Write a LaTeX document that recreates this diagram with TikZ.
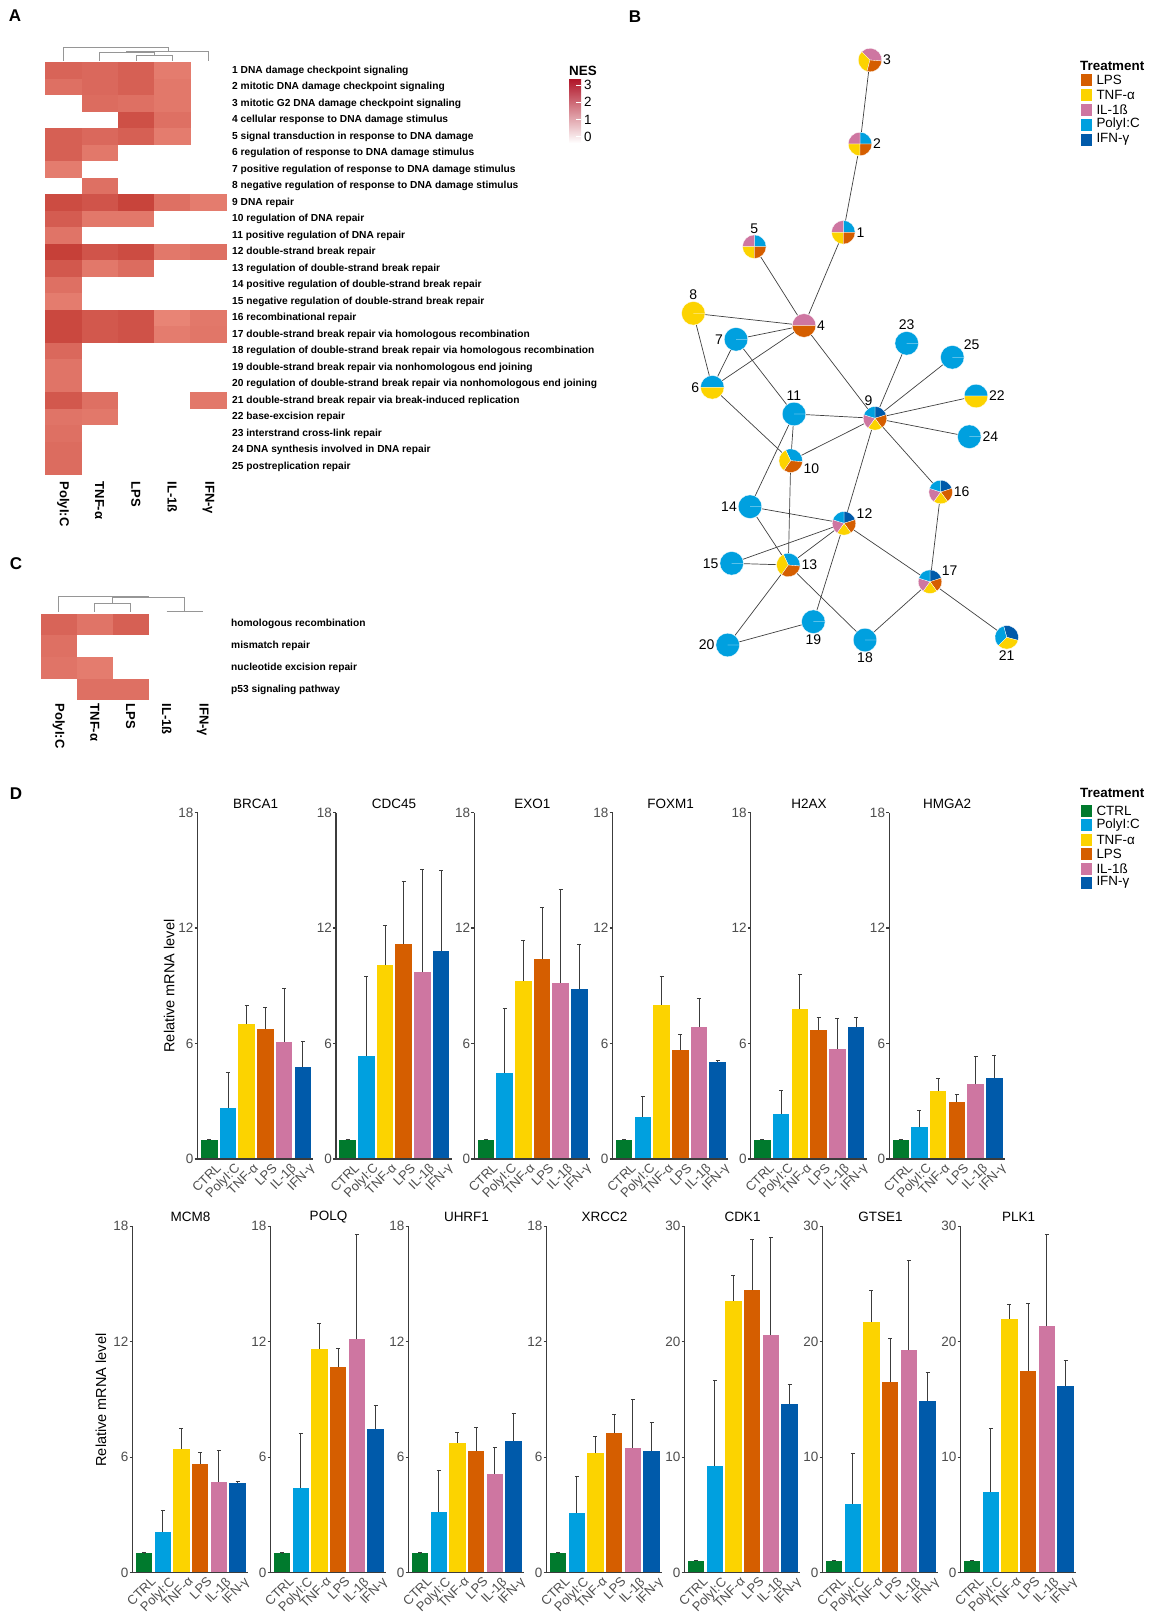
\documentclass[tikz,border=0pt]{standalone}
\usepackage{fontspec}
\setmainfont{Liberation Sans}
\usetikzlibrary{positioning, calc}
\definecolor{lpsorange}{RGB}{213,94,0}
\definecolor{tnfyellow}{RGB}{252,211,0}
\definecolor{ilpink}{RGB}{206,118,161}
\definecolor{polyblue}{RGB}{0,160,223}
\definecolor{ifnblue}{RGB}{0,90,170}
\definecolor{ctrlgreen}{RGB}{0,122,45}
\definecolor{neslight}{RGB}{236,140,124}
\definecolor{nesdark}{RGB}{196,60,52}
\definecolor{nestop}{RGB}{178,24,43}
\definecolor{nesmid}{RGB}{226,118,104}
\definecolor{axisgrey}{RGB}{60,60,60}
\definecolor{tickgrey}{RGB}{77,77,77}
\definecolor{dendgrey}{RGB}{150,150,150}
\colorlet{bar0}{ctrlgreen}
\colorlet{bar1}{polyblue}
\colorlet{bar2}{tnfyellow}
\colorlet{bar3}{lpsorange}
\colorlet{bar4}{ilpink}
\colorlet{bar5}{ifnblue}

\tikzset{
  panellab/.style={font=\fontsize{17}{20}\selectfont\bfseries, inner sep=0pt},
  rowlab/.style={font=\fontsize{10.2}{12}\selectfont\bfseries, anchor=west, inner sep=0pt},
  collab/.style={font=\fontsize{13}{15}\selectfont\bfseries, rotate=-90, anchor=west, inner sep=0pt},
  dendro/.style={dendgrey, line width=0.8pt},
  gnode/.style={circle, minimum size=23.6pt, inner sep=0pt, label distance=2.5pt},
  link/.style={black!75, line width=0.7pt},
  legtitle/.style={font=\fontsize{13.4}{15}\selectfont\bfseries, anchor=west, inner sep=0pt},
  legtext/.style={font=\fontsize{13.4}{15}\selectfont, anchor=west, inner sep=0pt},
  swatch/.style={minimum width=12pt, minimum height=13pt, inner sep=0pt, draw=white, line width=0.3pt},
  genetitle/.style={font=\fontsize{13.5}{15}\selectfont, inner sep=0pt},
  ticklab/.style={font=\fontsize{13.5}{15}\selectfont, text=tickgrey, anchor=east, inner sep=0.5pt},
  xlab/.style={font=\fontsize{13}{15}\selectfont, text=tickgrey, rotate=45, anchor=north east, inner sep=0.5pt},
  ylab/.style={font=\fontsize{14.5}{16}\selectfont, rotate=90, inner sep=0pt},
  errbar/.style={axisgrey, line width=0.8pt},
  axisline/.style={axisgrey, line width=1.1pt}
}

% pie glyph on a network node
\newcommand{\drawpie}[2]{%
  \foreach \sa/\sb/\sc in {#2} {
    \fill[\sc, draw=white, line width=0.3pt] (#1.center) -- ++(\sa:11.8pt)
      arc[start angle=\sa, end angle=\sb, radius=11.8pt] -- cycle;
  }}

% one bar chart of panel D
\newcommand{\genechart}[5]{%
  \begin{scope}[shift={(#1,#2)}]
    \pgfmathsetmacro{\pu}{346.5/#3}
    \foreach \v/\e [count=\i from 0] in {#5} {
      \pgfmathsetmacro{\bx}{3.3+\i*18.7}
      \fill[bar\i] (\bx,0) rectangle (\bx+16.5,-\v*\pu);
      \draw[errbar] (\bx+8.25,-\v*\pu) -- (\bx+8.25,-\e*\pu);
      \draw[errbar] (\bx+6.25,-\e*\pu) -- (\bx+10.25,-\e*\pu);
    }
    \foreach \lab [count=\i from 0] in {CTRL,PolyI:C,TNF-α,LPS,IL-1β,IFN-γ}
      \node[xlab] at (17.5+\i*18.7,2.5) {\lab};
    \foreach \k in {0,...,3} {
      \pgfmathtruncatemacro{\tv}{\k*#3/3}
      \draw[axisline] (-3,-\k*115.5) -- (0,-\k*115.5);
      \node[ticklab] at (-3.5,-\k*115.5) {\tv};
    }
    \draw[axisline] (0,-346.5) -- (0,0) -- (115.6,0);
    \node[genetitle] at (58,-355.5) {#4};
  \end{scope}}

\begin{document}
\begin{tikzpicture}[x=1pt, y=-1pt,
    every label/.style={font=\fontsize{14}{16}\selectfont, inner sep=1pt}]
  \useasboundingbox (0,0) rectangle (1155,1613);

  \node[panellab] (labA) at (15,16) {A};
  \node[panellab] (labB) at (635,17) {B};
  \node[panellab] (labC) at (16,564) {C};
  \node[panellab] (labD) at (16,794) {D};

  % panel A
  \foreach \lab/\va/\vb/\vc/\vd/\ve [count=\r from 0] in {
      1 DNA damage checkpoint signaling/50/45/55/20/0,
      2 mitotic DNA damage checkpoint signaling/35/45/55/25/0,
      3 mitotic G2 DNA damage checkpoint signaling/0/40/35/25/0,
      4 cellular response to DNA damage stimulus/0/0/75/35/0,
      5 signal transduction in response to DNA damage/55/45/55/20/0,
      6 regulation of response to DNA damage stimulus/55/25/0/0/0,
      7 positive regulation of response to DNA damage stimulus/20/0/0/0/0,
      8 negative regulation of response to DNA damage stimulus/0/35/0/0/0,
      9 DNA repair/80/70/90/35/20,
      10 regulation of DNA repair/60/25/25/0/0,
      11 positive regulation of DNA repair/30/0/0/0/0,
      12 double-strand break repair/95/70/80/25/35,
      13 regulation of double-strand break repair/65/25/40/0/0,
      14 positive regulation of double-strand break repair/35/0/0/0/0,
      15 negative regulation of double-strand break repair/20/0/0/0/0,
      16 recombinational repair/85/65/72/10/25,
      17 double-strand break repair via homologous recombination/85/65/72/20/28,
      18 regulation of double-strand break repair via homologous recombination/45/0/0/0/0,
      19 double-strand break repair via nonhomologous end joining/30/0/0/0/0,
      20 regulation of double-strand break repair via nonhomologous end joining/30/0/0/0/0,
      21 double-strand break repair via break-induced replication/65/35/0/0/25,
      22 base-excision repair/30/25/0/0/0,
      23 interstrand cross-link repair/35/0/0/0/0,
      24 DNA synthesis involved in DNA repair/40/0/0/0/0,
      25 postreplication repair/40/0/0/0/0} {
    \foreach \v [count=\k from 0] in {\va,\vb,\vc,\vd,\ve} {
      \ifnum\v>0 \fill[nesdark!\v!neslight] (45.2+\k*36.3,62.3+\r*16.5) rectangle ++(36.4,16.6); \fi
    }
    \node[rowlab] (rowA\r) at (232,70.55+\r*16.5) {\lab};
  }
  \foreach \lab [count=\k from 0] in {PolyI:C,TNF-α,LPS,IL-1ß,IFN-γ}
    \node[collab] (colA\k) at (63.35+\k*36.3,481.5) {\lab};
  \draw[dendro] (63.35,60.7) -- (63.35,47.7) -- (167.9,47.7) -- (167.9,51);
  \draw[dendro] (126.8,52.3) -- (126.8,51) -- (208.55,51) -- (208.55,60.7);
  \draw[dendro] (99.65,60.7) -- (99.65,52.3) -- (154.1,52.3) -- (154.1,55.7);
  \draw[dendro] (135.95,60.7) -- (135.95,55.7) -- (172.25,55.7) -- (172.25,60.7);

  % NES colour key
  \node[legtitle, anchor=south west] (nestitle) at (569,76) {NES};
  \shade[top color=nestop, middle color=nesmid, bottom color=white] (569,80) rectangle (581,143);
  \foreach \t in {0,...,3} {
    \draw[white, line width=0.6pt] (576,136.7-\t*17.2) -- (581,136.7-\t*17.2);
    \node[legtext] (nes\t) at (584,136.7-\t*17.2) {\t};
  }

  % panel C
  \foreach \lab/\va/\vb/\vc/\vd/\ve [count=\r from 0] in {
      homologous recombination/50/30/55/0/0,
      mismatch repair/35/0/0/0/0,
      nucleotide excision repair/30/20/0/0/0,
      p53 signaling pathway/0/35/35/0/0} {
    \foreach \v [count=\k from 0] in {\va,\vb,\vc,\vd,\ve} {
      \ifnum\v>0 \fill[nesdark!\v!neslight] (40.7+\k*36,613.5+\r*21.7) rectangle ++(36.1,21.8); \fi
    }
    \node[rowlab] (rowC\r) at (231,624.35+\r*21.7) {\lab};
  }
  \foreach \lab [count=\k from 0] in {PolyI:C,TNF-α,LPS,IL-1ß,IFN-γ}
    \node[collab] (colC\k) at (58.7+\k*36,703.5) {\lab};
  \draw[dendro] (58.7,611.7) -- (58.7,596.7) -- (148.7,596.7) -- (148.7,597.7);
  \draw[dendro] (112.7,603.3) -- (112.7,597.7) -- (184.7,597.7) -- (184.7,611);
  \draw[dendro] (94.7,611.7) -- (94.7,603.3) -- (130.7,603.3) -- (130.7,611.7);
  \draw[dendro] (166.7,611) -- (202.7,611);

  % panel B
  \foreach \n/\x/\y/\a in {1/843.3/232.3/0, 2/860/144/0, 3/870/60/0, 4/804/325.5/0,
      5/754.3/246.7/90, 6/712.3/387.3/180, 7/736/339.3/180, 8/693.3/313.3/90,
      9/875/418.3/97, 10/790.7/460.7/-11, 11/794/414/90, 12/844/523.3/16,
      13/788.3/565/0, 14/750/506.7/180, 15/731.7/563.3/180, 16/940.7/492/0,
      17/930/581.7/27, 18/865/640/-90, 19/813.3/621.7/-90, 20/727.7/645/180,
      21/1006.7/637.3/-90, 22/976/396/0, 23/906.7/343.3/90, 24/969.3/436.7/0,
      25/952.3/357.3/31}
    \node[gnode, label={\a:\n}] (n\n) at (\x,\y) {};
  \foreach \a/\b in {3/2, 2/1, 1/4, 5/4, 8/4, 8/6, 7/4, 7/6, 6/4, 7/11, 6/10,
      4/9, 11/9, 11/14, 11/10, 10/13, 10/9, 9/23, 9/25, 9/22, 9/24, 9/16, 9/12,
      16/17, 14/12, 14/13, 12/15, 12/13, 15/13, 12/19, 12/17, 13/20, 13/18,
      20/19, 17/18, 17/21}
    \draw[link] (n\a) -- (n\b);
  \foreach \m in {1,2,5} {
    \drawpie{n\m}{0/90/polyblue, 90/180/ilpink, 180/270/tnfyellow, 270/360/lpsorange}
  }
  \foreach \m in {9,12,16,17} {
    \drawpie{n\m}{90/18/ifnblue, 18/-54/lpsorange, -54/-126/tnfyellow, -126/-198/ilpink, -198/-270/polyblue}
  }
  \foreach \m in {10,13} {
    \drawpie{n\m}{-5/115/polyblue, 115/235/tnfyellow, 235/355/lpsorange}
  }
  \foreach \m in {6,22} {
    \drawpie{n\m}{0/180/polyblue, 180/360/tnfyellow}
  }
  \foreach \m in {7,11,14,15,18,19,20,23,24,25} {
    \drawpie{n\m}{0/360/polyblue}
  }
  \drawpie{n3}{-5/135/ilpink, 135/255/tnfyellow, 255/355/lpsorange}
  \drawpie{n4}{0/180/ilpink, 180/360/lpsorange}
  \drawpie{n8}{0/360/tnfyellow}
  \drawpie{n21}{-15/105/ifnblue, 105/225/polyblue, 225/345/tnfyellow}

  \node[legtitle] (legB) at (1080,66) {Treatment};
  \foreach \c/\t [count=\i from 0] in {lpsorange/LPS, tnfyellow/TNF-α, ilpink/IL-1ß, polyblue/PolyI:C, ifnblue/IFN-γ} {
    \node[swatch, fill=\c, anchor=west] (swB\i) at (1080,80+\i*14.8) {};
    \node[legtext, right=4pt of swB\i] (txB\i) {\t};
  }

  % panel D
  \genechart{197.7}{1159}{18}{BRCA1}{1.0/1.03, 2.66/4.5, 7.0/8.0, 6.73/7.86, 6.09/8.86, 4.76/6.09}
  \genechart{336}{1159}{18}{CDC45}{1.0/1.03, 5.36/9.47, 10.07/12.15, 11.16/14.43, 9.69/15.07, 10.81/15.0}
  \genechart{474.3}{1159}{18}{EXO1}{1.0/1.03, 4.47/7.82, 9.24/11.35, 10.38/13.05, 9.14/14.02, 8.84/11.16}
  \genechart{612.6}{1159}{18}{FOXM1}{1.0/1.03, 2.2/3.24, 8.01/9.47, 5.66/6.47, 6.87/8.34, 5.04/5.14}
  \genechart{750.9}{1159}{18}{H2AX}{1.0/1.03, 2.35/3.58, 7.77/9.6, 6.7/7.34, 5.71/7.3, 6.87/7.34}
  \genechart{889.2}{1159}{18}{HMGA2}{1.0/1.03, 1.65/2.54, 3.51/4.19, 2.96/3.37, 3.89/5.31, 4.19/5.4}
  \genechart{132.5}{1572.7}{18}{MCM8}{1.0/1.03, 2.13/3.23, 6.45/7.51, 5.67/6.26, 4.7/6.38, 4.68/4.73}
  \genechart{270.5}{1572.7}{18}{POLQ}{1.0/1.03, 4.39/7.25, 11.62/12.94, 10.69/11.64, 12.14/17.55, 7.49/8.71}
  \genechart{408.5}{1572.7}{18}{UHRF1}{1.0/1.03, 3.17/5.29, 6.76/7.27, 6.3/7.54, 5.14/6.52, 6.85/8.27}
  \genechart{546.5}{1572.7}{18}{XRCC2}{1.0/1.03, 3.09/4.98, 6.21/7.08, 7.25/8.2, 6.5/9.02, 6.33/7.82}
  \genechart{684.5}{1572.7}{30}{CDK1}{1.04/1.1, 9.28/16.65, 23.53/25.73, 24.45/28.85, 20.58/29.02, 14.6/16.27}
  \genechart{822.5}{1572.7}{30}{GTSE1}{1.04/1.1, 5.96/10.35, 21.71/24.42, 16.47/20.32, 19.25/27.03, 14.89/17.34}
  \genechart{960.5}{1572.7}{30}{PLK1}{1.04/1.1, 6.97/12.46, 21.97/23.24, 17.43/23.3, 21.33/29.26, 16.16/18.36}
  \node[ylab] (ylabtop) at (169.3,986) {Relative mRNA level};
  \node[ylab] (ylabbot) at (101,1400) {Relative mRNA level};

  \node[legtitle] (legD) at (1080,793) {Treatment};
  \foreach \c/\t [count=\i from 0] in {ctrlgreen/CTRL, polyblue/PolyI:C, tnfyellow/TNF-α, lpsorange/LPS, ilpink/IL-1ß, ifnblue/IFN-γ} {
    \node[swatch, fill=\c, anchor=west] (swD\i) at (1080,810.7+\i*14.4) {};
    \node[legtext, right=4pt of swD\i] (txD\i) {\t};
  }
\end{tikzpicture}
\end{document}
